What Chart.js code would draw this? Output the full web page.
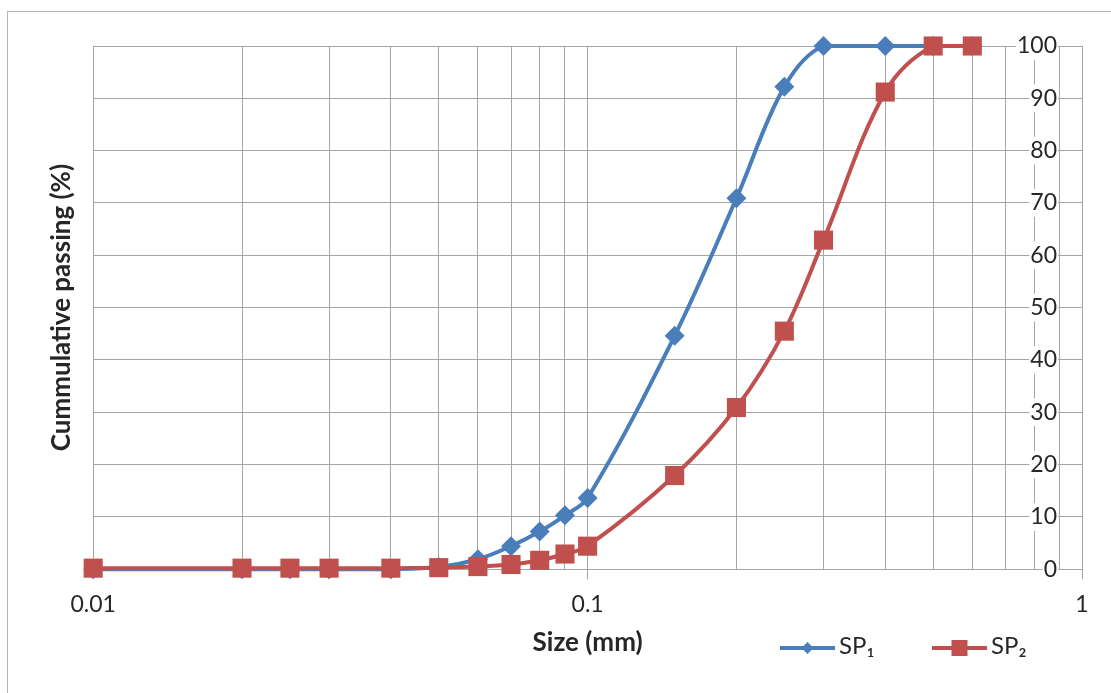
<!DOCTYPE html>
<html>
<head>
<meta charset="utf-8">
<script src="https://cdn.jsdelivr.net/npm/chart.js@4.4.0/dist/chart.umd.min.js"></script>
<style>
html, body { margin: 0; padding: 0; background: #fff; }
#wrap { position: relative; width: 1111px; height: 693px; overflow: hidden; }
#frame { position: absolute; left: 7px; top: 11px; width: 1200px; height: 800px;
  border-left: 1px solid #b4b4b4; border-top: 1px solid #b4b4b4; }
#chart { position: absolute; left: 0; top: 0; }
</style>
</head>
<body>
<div id="wrap">
  <div id="frame"></div>
  <canvas id="chart" width="1111" height="693"></canvas>
</div>
<script>
// sieve sizes (mm) and cumulative passing (%)
var sizes = [0.01, 0.02, 0.025, 0.03, 0.04, 0.05, 0.06, 0.07, 0.08, 0.09, 0.1, 0.15, 0.2, 0.25, 0.3, 0.4, 0.5, 0.6];
var sp1 = [0, 0, 0, 0, 0, 0.4, 1.9, 4.4, 7.2, 10.3, 13.6, 44.6, 70.9, 92.2, 100, 100, 100, 100];
var sp2 = [0.2, 0.2, 0.2, 0.2, 0.2, 0.3, 0.5, 0.9, 1.7, 2.9, 4.4, 17.9, 30.9, 45.5, 62.9, 91.2, 100, 100];
var seriesNames = ['SP\u2081', 'SP\u2082'];

// x grid lines and labelled x ticks
var xGrid = [0.01, 0.02, 0.03, 0.04, 0.05, 0.06, 0.07, 0.08, 0.09,
             0.1, 0.2, 0.3, 0.4, 0.5, 0.6, 0.7, 0.8, 0.9, 1];
var xLabels = [0.01, 0.1, 1];

var BLUE = '#4a7ebb';
var RED = '#c0504d';
var GRID = '#a6a6a6';
var TEXT = '#262626';
var FONT = 'Lato, "Open Sans", sans-serif';

// where the excel-like legend sits (below the plot, right of the x title)
var legendSpot = { y: 648, x: [780, 932], line: 55, gap: 4, size: 24 };

function points(ys) {
	return sizes.map(function(s, i) { return {x: s, y: ys[i]}; });
}

var excelLegend = {
	id: 'excelLegend',
	afterDraw: function(chart) {
		var ctx = chart.ctx;
		ctx.save();
		chart.data.datasets.forEach(function(ds, i) {
			var x0 = legendSpot.x[i];
			var y = legendSpot.y;
			var cx = x0 + legendSpot.line / 2;
			var r = ds.legendMarker;
			ctx.strokeStyle = ds.borderColor;
			ctx.lineWidth = ds.borderWidth;
			ctx.beginPath();
			ctx.moveTo(x0, y);
			ctx.lineTo(x0 + legendSpot.line, y);
			ctx.stroke();
			ctx.fillStyle = ds.backgroundColor;
			ctx.beginPath();
			if (ds.pointStyle === 'rectRot') {
				ctx.moveTo(cx, y - r); ctx.lineTo(cx + r, y); ctx.lineTo(cx, y + r); ctx.lineTo(cx - r, y);
			} else {
				ctx.rect(cx - r, y - r, 2 * r, 2 * r);
			}
			ctx.closePath();
			ctx.fill();
			ctx.fillStyle = TEXT;
			ctx.font = legendSpot.size + 'px ' + FONT;
			ctx.textAlign = 'left';
			ctx.textBaseline = 'middle';
			ctx.fillText(ds.label, x0 + legendSpot.line + legendSpot.gap, y - 2);
		});
		ctx.restore();
	}
};

Chart.defaults.font.family = FONT;
Chart.defaults.color = TEXT;

new Chart(document.getElementById('chart'), {
	type: 'line',
	data: {
		datasets: [
			{
				label: seriesNames[0],
				data: points(sp1),
				borderColor: BLUE,
				backgroundColor: BLUE,
				borderWidth: 4,
				pointStyle: 'rectRot',
				pointRadius: 10,
				pointBorderWidth: 0,
				legendMarker: 6,
				tension: 0.35,
				clip: false,
				order: 1
			},
			{
				label: seriesNames[1],
				data: points(sp2),
				borderColor: RED,
				backgroundColor: RED,
				borderWidth: 4,
				pointStyle: 'rect',
				pointRadius: 13.5,
				pointBorderWidth: 0,
				legendMarker: 8,
				tension: 0.35,
				clip: false,
				order: 0
			}
		]
	},
	options: {
		responsive: false,
		animation: false,
		layout: { padding: { left: 42, right: 29, top: 46, bottom: 31 } },
		scales: {
			x: {
				type: 'logarithmic',
				min: 0.01,
				max: 1,
				afterBuildTicks: function(scale) {
					scale.ticks = xGrid.map(function(v) { return {value: v}; });
				},
				ticks: {
					autoSkip: false,
					maxRotation: 0,
					padding: 12,
					color: TEXT,
					font: { size: 23 },
					callback: function(v) { return xLabels.indexOf(v) >= 0 ? String(v) : ''; }
				},
				grid: {
					color: GRID,
					tickLength: 10,
					tickColor: function(ctx) {
						return ctx.tick && xLabels.indexOf(ctx.tick.value) >= 0 ? GRID : 'rgba(0,0,0,0)';
					}
				},
				border: { color: GRID },
				title: {
					display: true,
					text: 'Size (mm)',
					color: TEXT,
					font: { size: 26, weight: 'bold' },
					padding: { top: -4, bottom: 4 }
				}
			},
			y: {
				position: 'left',
				min: 0,
				max: 100,
				ticks: { display: false, stepSize: 10 },
				grid: { color: GRID, drawTicks: false },
				border: { display: false },
				title: {
					display: true,
					text: 'Cummulative passing (%)',
					color: TEXT,
					font: { size: 26, weight: 'bold' },
					padding: { top: 4, bottom: 16 }
				}
			},
			y2: {
				position: 'right',
				min: 0,
				max: 100,
				afterFit: function(scale) { scale.width = 0; },
				ticks: {
					stepSize: 10,
					mirror: true,
					padding: -25,
					color: TEXT,
					font: { size: 23 },
					showLabelBackdrop: true,
					backdropColor: '#ffffff',
					backdropPadding: { x: 1, y: 0 }
				},
				grid: { display: false },
				border: { display: false }
			}
		},
		plugins: {
			tooltip: { enabled: false },
			legend: { display: false }
		}
	},
	plugins: [excelLegend]
});
</script>
</body>
</html>
